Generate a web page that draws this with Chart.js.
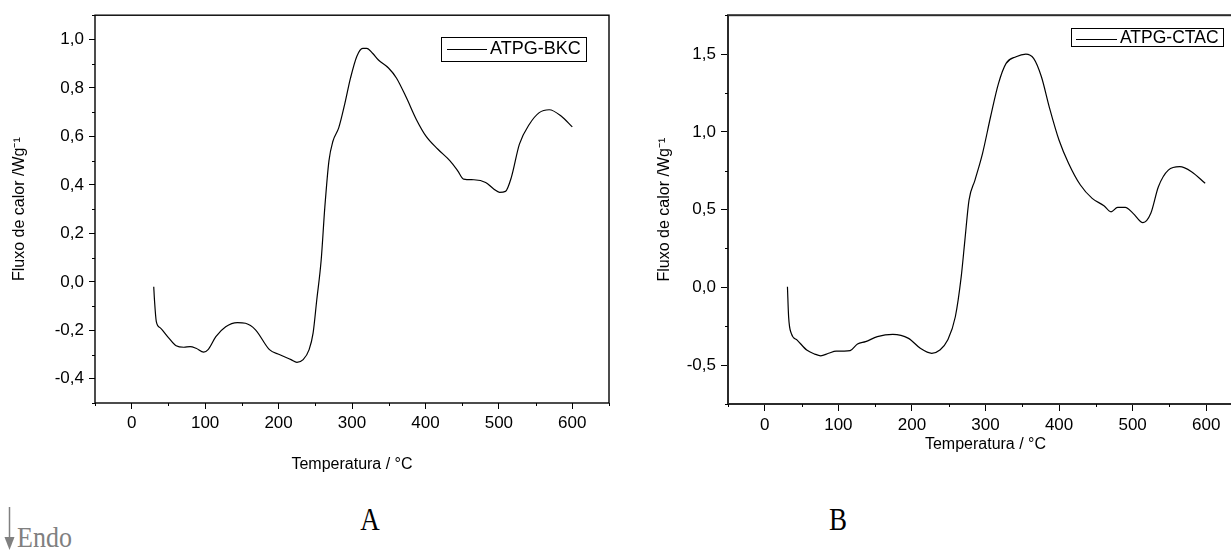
<!DOCTYPE html>
<html>
<head>
<meta charset="utf-8">
<script src="https://cdn.jsdelivr.net/npm/chart.js@4.4.1/dist/chart.umd.min.js"></script>
<style>
  html, body { margin: 0; padding: 0; background: #fff; overflow: hidden; width: 1231px; height: 550px; }
  #wrapA { position: absolute; left: 0; top: 0; width: 615px; height: 480px; }
  #wrapB { position: absolute; left: 615px; top: 0; width: 640px; height: 480px; }
  .tag { position: absolute; font-family: 'Liberation Serif', 'Times New Roman', serif; color: #000; line-height: 1; }
  #tagA { left: 370px; top: 507px; font-size: 27px; transform: translateX(-50%) scaleY(1.15); }
  #tagB { left: 838px; top: 507px; font-size: 27px; transform: translateX(-50%) scaleY(1.15); }
  #endo { left: 17px; top: 523px; font-size: 26px; color: #808080; transform: scaleY(1.12); transform-origin: left top; }
  #arrow { position: absolute; left: 0; top: 500px; }
</style>
</head>
<body>
<div id="wrapA"><canvas id="chartA" width="615" height="480"></canvas></div>
<div id="wrapB"><canvas id="chartB" width="640" height="480"></canvas></div>
<svg id="arrow" width="20" height="50">
  <line x1="9.5" y1="7" x2="9.5" y2="40" stroke="#808080" stroke-width="1.5"/>
  <polygon points="4.5,37 14.5,37 9.5,50" fill="#808080"/>
</svg>
<div class="tag" id="endo">Endo</div>
<div class="tag" id="tagA">A</div>
<div class="tag" id="tagB">B</div>
<script>
// DSC curves (temperature in °C, heat flow in W/g)
const tempA = [30, 31, 33.5, 39, 50, 60.5, 71, 79.5, 87.6, 98, 104, 114.6, 128, 144, 155, 168.6, 187.6, 201, 217, 225,
  233.5, 241.6, 247, 252, 258, 263, 268.6, 274, 282, 290, 298, 306.5, 314.6, 320, 328, 336, 349.7, 360.5, 374, 387.6,
  401, 417, 433.5, 444, 452, 466, 482, 493, 501, 509, 517, 528, 541.6, 555, 568.6, 584.8, 600];
const fluxA = [-0.02, -0.075, -0.164, -0.19, -0.23, -0.264, -0.27, -0.267, -0.274, -0.29, -0.28, -0.226, -0.185, -0.168, -0.171, -0.198, -0.28, -0.30, -0.321, -0.332,
  -0.321, -0.28, -0.212, -0.075, 0.089, 0.308, 0.499, 0.58, 0.636, 0.732, 0.841, 0.93, 0.963, 0.963, 0.943, 0.915, 0.882, 0.841, 0.76, 0.67,
  0.60, 0.547, 0.499, 0.458, 0.424, 0.421, 0.41, 0.383, 0.369, 0.373, 0.431, 0.568, 0.65, 0.698, 0.71, 0.684, 0.639];

const tempB = [30.8, 32.4, 36, 44, 57, 68, 76, 86.6, 97, 108, 116, 126, 137, 153, 174, 195.4, 211.4, 227, 238, 248.6,
  259, 267, 272, 277.6, 285.7, 296, 306.9, 317.6, 328, 341.5, 354.8, 365.4, 376, 386.6, 400, 413, 429, 445, 461, 470.6,
  479.6, 490, 500.6, 514, 524.7, 535, 548.5, 564, 580, 598.6];
const fluxB = [0.004, -0.19, -0.296, -0.339, -0.403, -0.429, -0.44, -0.424, -0.41, -0.41, -0.407, -0.364, -0.349, -0.317, -0.302, -0.328, -0.392, -0.424, -0.403, -0.339,
  -0.189, 0.069, 0.304, 0.561, 0.69, 0.862, 1.097, 1.31, 1.44, 1.483, 1.5, 1.472, 1.354, 1.161, 0.946, 0.797, 0.658, 0.572, 0.525, 0.486,
  0.514, 0.514, 0.476, 0.416, 0.476, 0.647, 0.754, 0.776, 0.744, 0.669];

const xTicks = [0, 100, 200, 300, 400, 500, 600];
const xMinor = [-50, 50, 150, 250, 350, 450, 550, 650];
const yTicksA = [-0.4, -0.2, 0, 0.2, 0.4, 0.6, 0.8, 1.0];
const yMinorA = [-0.5, -0.3, -0.1, 0.1, 0.3, 0.5, 0.7, 0.9, 1.1];
const yTicksB = [-0.5, 0, 0.5, 1.0, 1.5];
const yMinorB = [-0.75, -0.25, 0.25, 0.75, 1.25, 1.75];

const fmt = (v) => v.toFixed(1).replace('.', ',').replace('-0,0', '0,0');
const tickFont = { family: "'Liberation Sans', Arial, sans-serif", size: 17 };
const titleFont = { family: "'Liberation Sans', Arial, sans-serif", size: 16 };

// box around the plot, short minor ticks, and the boxed legend
const framePlugin = {
  id: 'frame',
  afterDatasetsDraw(chart, args, o) {
    const { ctx, chartArea: a, scales: { x, y } } = chart;
    ctx.save();
    ctx.strokeStyle = o.color;
    ctx.lineWidth = o.width;
    ctx.strokeRect(a.left, a.top, a.right - a.left, a.bottom - a.top);

    ctx.strokeStyle = '#000';
    ctx.lineWidth = 1;
    ctx.beginPath();
    o.xMinor.forEach(v => {
      const px = Math.round(x.getPixelForValue(v)) + 0.5;
      ctx.moveTo(px, a.bottom);
      ctx.lineTo(px, a.bottom + o.minorLen);
    });
    o.yMinor.forEach(v => {
      const py = Math.round(y.getPixelForValue(v)) + 0.5;
      ctx.moveTo(a.left, py);
      ctx.lineTo(a.left - o.minorLen, py);
    });
    ctx.stroke();

    // legend
    const L = o.legend;
    ctx.lineWidth = 1;
    ctx.strokeStyle = '#000';
    ctx.strokeRect(L.x0 + 0.5, L.y0 + 0.5, L.x1 - L.x0, L.y1 - L.y0);
    ctx.beginPath();
    ctx.moveTo(L.lx0, L.ly + 0.5);
    ctx.lineTo(L.lx1, L.ly + 0.5);
    ctx.stroke();
    ctx.fillStyle = '#000';
    ctx.font = L.size + "px 'Liberation Sans', Arial, sans-serif";
    ctx.textBaseline = 'middle';
    ctx.fillText(chart.data.datasets[0].label, L.tx, L.ty);
    ctx.restore();
  }
};

function makeChart(id, cfg) {
  return new Chart(document.getElementById(id), {
    type: 'line',
    data: {
      datasets: [{
        label: cfg.label,
        data: cfg.xs.map((t, i) => ({ x: t, y: cfg.ys[i] })),
        borderColor: '#000',
        borderWidth: 1.2,
        pointRadius: 0,
        fill: false,
        cubicInterpolationMode: 'monotone'
      }]
    },
    options: {
      responsive: false,
      animation: false,
      layout: { padding: cfg.padding },
      plugins: {
        legend: { display: false },
        tooltip: { enabled: false },
        frame: {
          color: cfg.frameColor, width: cfg.frameWidth, minorLen: 3,
          xMinor: xMinor, yMinor: cfg.yMinor, legend: cfg.legend
        }
      },
      scales: {
        x: {
          type: 'linear', min: -50, max: 650,
          afterBuildTicks: (s) => { s.ticks = xTicks.map(v => ({ value: v })); },
          afterFit: (s) => { s.height = cfg.xHeight; },
          grid: { display: true, drawOnChartArea: false, drawTicks: true, tickLength: cfg.tickLen, tickColor: '#000', tickWidth: 1 },
          border: { display: false },
          ticks: { color: '#000', font: tickFont, padding: 4, maxRotation: 0, autoSkip: false, callback: (v) => String(v) },
          title: { display: true, text: 'Temperatura / °C', color: '#000', font: titleFont, padding: { top: 0, bottom: cfg.xTitlePad } }
        },
        y: {
          type: 'linear', min: cfg.yMin, max: cfg.yMax,
          afterBuildTicks: (s) => { s.ticks = cfg.yTicks.map(v => ({ value: v })); },
          afterFit: (s) => { s.width = cfg.yWidth; },
          grid: { display: true, drawOnChartArea: false, drawTicks: true, tickLength: cfg.tickLen, tickColor: '#000', tickWidth: 1 },
          border: { display: false },
          ticks: { color: '#000', font: tickFont, padding: 5, autoSkip: false, callback: (v) => fmt(v) },
          title: { display: true, text: 'Fluxo de calor /Wg⁻¹', color: '#000', font: titleFont, padding: { top: cfg.yTitlePad, bottom: 0 } }
        }
      }
    },
    plugins: [framePlugin]
  });
}

makeChart('chartA', {
  label: 'ATPG-BKC', xs: tempA, ys: fluxA,
  yMin: -0.5, yMax: 1.1, yTicks: yTicksA, yMinor: yMinorA,
  padding: { top: 14, right: 6, left: 0, bottom: 0 },
  yWidth: 95, xHeight: 77, tickLen: 6, xTitlePad: 6, yTitlePad: 10,
  frameColor: '#000', frameWidth: 1.4,
  legend: { x0: 441, y0: 37, x1: 586, y1: 61, lx0: 447, lx1: 487, ly: 49, tx: 490, ty: 49, size: 18 }
});

makeChart('chartB', {
  label: 'ATPG-CTAC', xs: tempB, ys: fluxB,
  yMin: -0.75, yMax: 1.75, yTicks: yTicksB, yMinor: yMinorB,
  padding: { top: 15, right: 12, left: 0, bottom: 0 },
  yWidth: 113, xHeight: 76, tickLen: 7, xTitlePad: 26, yTitlePad: 40,
  frameColor: '#2b2b2b', frameWidth: 2,
  legend: { x0: 456, y0: 28, x1: 608, y1: 46, lx0: 461, lx1: 502, ly: 39, tx: 505, ty: 38, size: 17.5 }
});
</script>
</body>
</html>
